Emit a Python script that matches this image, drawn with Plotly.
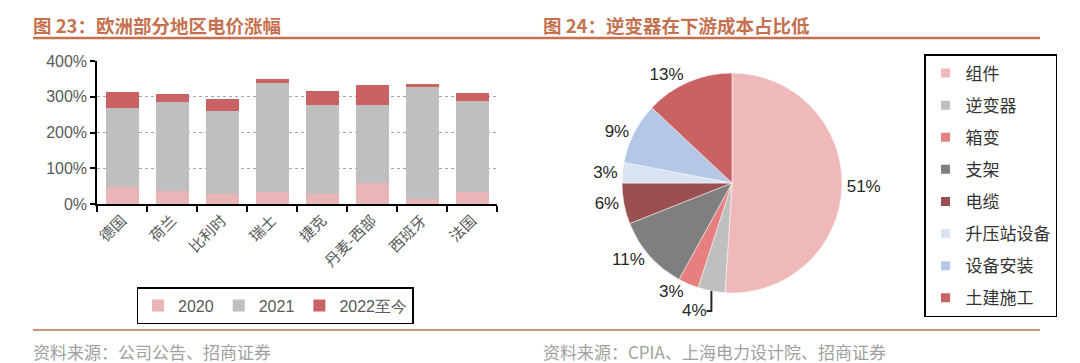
import plotly.graph_objects as go

# ---- data ----
countries = ["德国", "荷兰", "比利时", "瑞士", "捷克", "丹麦-西部", "西班牙", "法国"]
v2020 = [48, 37, 28, 34, 28, 58, 13, 34]
v2021 = [220, 249, 232, 304, 249, 219, 313, 255]
v2022 = [45, 23, 33, 13, 39, 56, 10, 21]
series_names = ["2020", "2021", "2022至今"]
series_colors = ["#E8B6B6", "#BFBFBF", "#C96363"]

pie_labels = ["组件", "逆变器", "箱变", "支架", "电缆", "升压站设备", "设备安装", "土建施工"]
pie_values = [51, 4, 3, 11, 6, 3, 9, 13]
pie_colors = ["#EFB9B9", "#BFBFBF", "#E67F7F", "#7F7F7F", "#9A5050", "#DAE3F3", "#B4C7E7", "#C96363"]

W, H = 1080, 363
TITLE_C = "#C5714F"
CJK = "Noto Sans CJK SC"
LAT = "Liberation Sans, Arial"

fig = go.Figure()

for name, vals, col in zip(series_names, [v2020, v2021, v2022], series_colors):
    fig.add_trace(go.Bar(x=countries, y=vals, name=name, marker=dict(color=col, line=dict(width=0)),
                         legend="legend"))

fig.add_trace(go.Pie(labels=pie_labels, values=pie_values, sort=False, direction="clockwise",
                     rotation=0, marker=dict(colors=pie_colors, line=dict(color="white", width=0.5)),
                     texttemplate="%{value}%", textposition="outside",
                     textfont=dict(family=LAT, size=17, color="#262626"),
                     showlegend=False,
                     domain=dict(x=[(732 - 110) / W, (732 + 110) / W], y=[1 - 293 / H, 1 - 73 / H])))

for lab, col in zip(pie_labels, pie_colors):
    fig.add_trace(go.Scatter(x=[None], y=[None], mode="markers", name=lab, legend="legend2",
                             legendgroup=lab,
                             marker=dict(symbol="square", size=9, color=col)))

fig.update_layout(
    width=W, height=H, margin=dict(l=0, r=0, t=0, b=0, autoexpand=False),
    paper_bgcolor="white", plot_bgcolor="white",
    barmode="stack", bargap=0.34,
    font=dict(family=LAT, color="#595959"),
    xaxis=dict(domain=[97 / W, 497 / W], showline=True, linecolor="black", linewidth=1.5,
               ticks="outside", tickson="boundaries", ticklen=6, tickcolor="black", tickwidth=1.5,
               tickangle=-45, tickfont=dict(family=CJK, size=15, color="#595959"), showgrid=False),
    yaxis=dict(domain=[1 - 204 / H, 1 - 61 / H], range=[0, 400], dtick=100, ticksuffix="%",
               showline=True, linecolor="black", linewidth=1.5, ticks="outside", ticklen=5,
               tickcolor="black", tickwidth=1.5, tickfont=dict(family=LAT, size=16, color="#595959"),
               showgrid=True, gridcolor="#A6A6A6", griddash="dot", gridwidth=1, zeroline=False),
    legend=dict(orientation="h", x=275 / W, xanchor="center", y=1 - 287 / H, yanchor="top",
                bordercolor="black", borderwidth=1.5, font=dict(family=LAT, size=16, color="#595959"),
                itemwidth=30, traceorder="normal"),
    legend2=dict(x=924 / W, xanchor="left", y=1 - 54 / H, yanchor="top", bordercolor="black",
                 borderwidth=1.5, font=dict(family=CJK, size=17, color="#333333"),
                 tracegroupgap=7, itemwidth=30),
)

# titles
fig.add_annotation(text="<b>图 23：欧洲部分地区电价涨幅</b>", x=31 / W, y=1 - 25 / H, xref="paper", yref="paper",
                   xanchor="left", yanchor="middle", showarrow=False,
                   font=dict(family=CJK, size=18.5, color=TITLE_C))
fig.add_annotation(text="<b>图 24：逆变器在下游成本占比低</b>", x=541 / W, y=1 - 25 / H, xref="paper", yref="paper",
                   xanchor="left", yanchor="middle", showarrow=False,
                   font=dict(family=CJK, size=18.5, color=TITLE_C))
# footers
fig.add_annotation(text="资料来源：公司公告、招商证券", x=31 / W, y=1 - 351 / H, xref="paper", yref="paper",
                   xanchor="left", yanchor="middle", showarrow=False,
                   font=dict(family=CJK, size=17, color="#A0A0A0"))
fig.add_annotation(text="资料来源：CPIA、上海电力设计院、招商证券", x=541 / W, y=1 - 351 / H, xref="paper", yref="paper",
                   xanchor="left", yanchor="middle", showarrow=False,
                   font=dict(family=CJK, size=17, color="#A0A0A0"))

# separator lines
for x0, x1 in [(33, 540), (540, 1040)]:
    fig.add_shape(type="line", xref="paper", yref="paper", x0=x0 / W, x1=x1 / W, y0=1 - 38 / H, y1=1 - 38 / H,
                  line=dict(color=TITLE_C, width=2.5))
    fig.add_shape(type="line", xref="paper", yref="paper", x0=x0 / W, x1=x1 / W, y0=1 - 330 / H, y1=1 - 330 / H,
                  line=dict(color=TITLE_C, width=1.5))

fig.write_html("out.html")
